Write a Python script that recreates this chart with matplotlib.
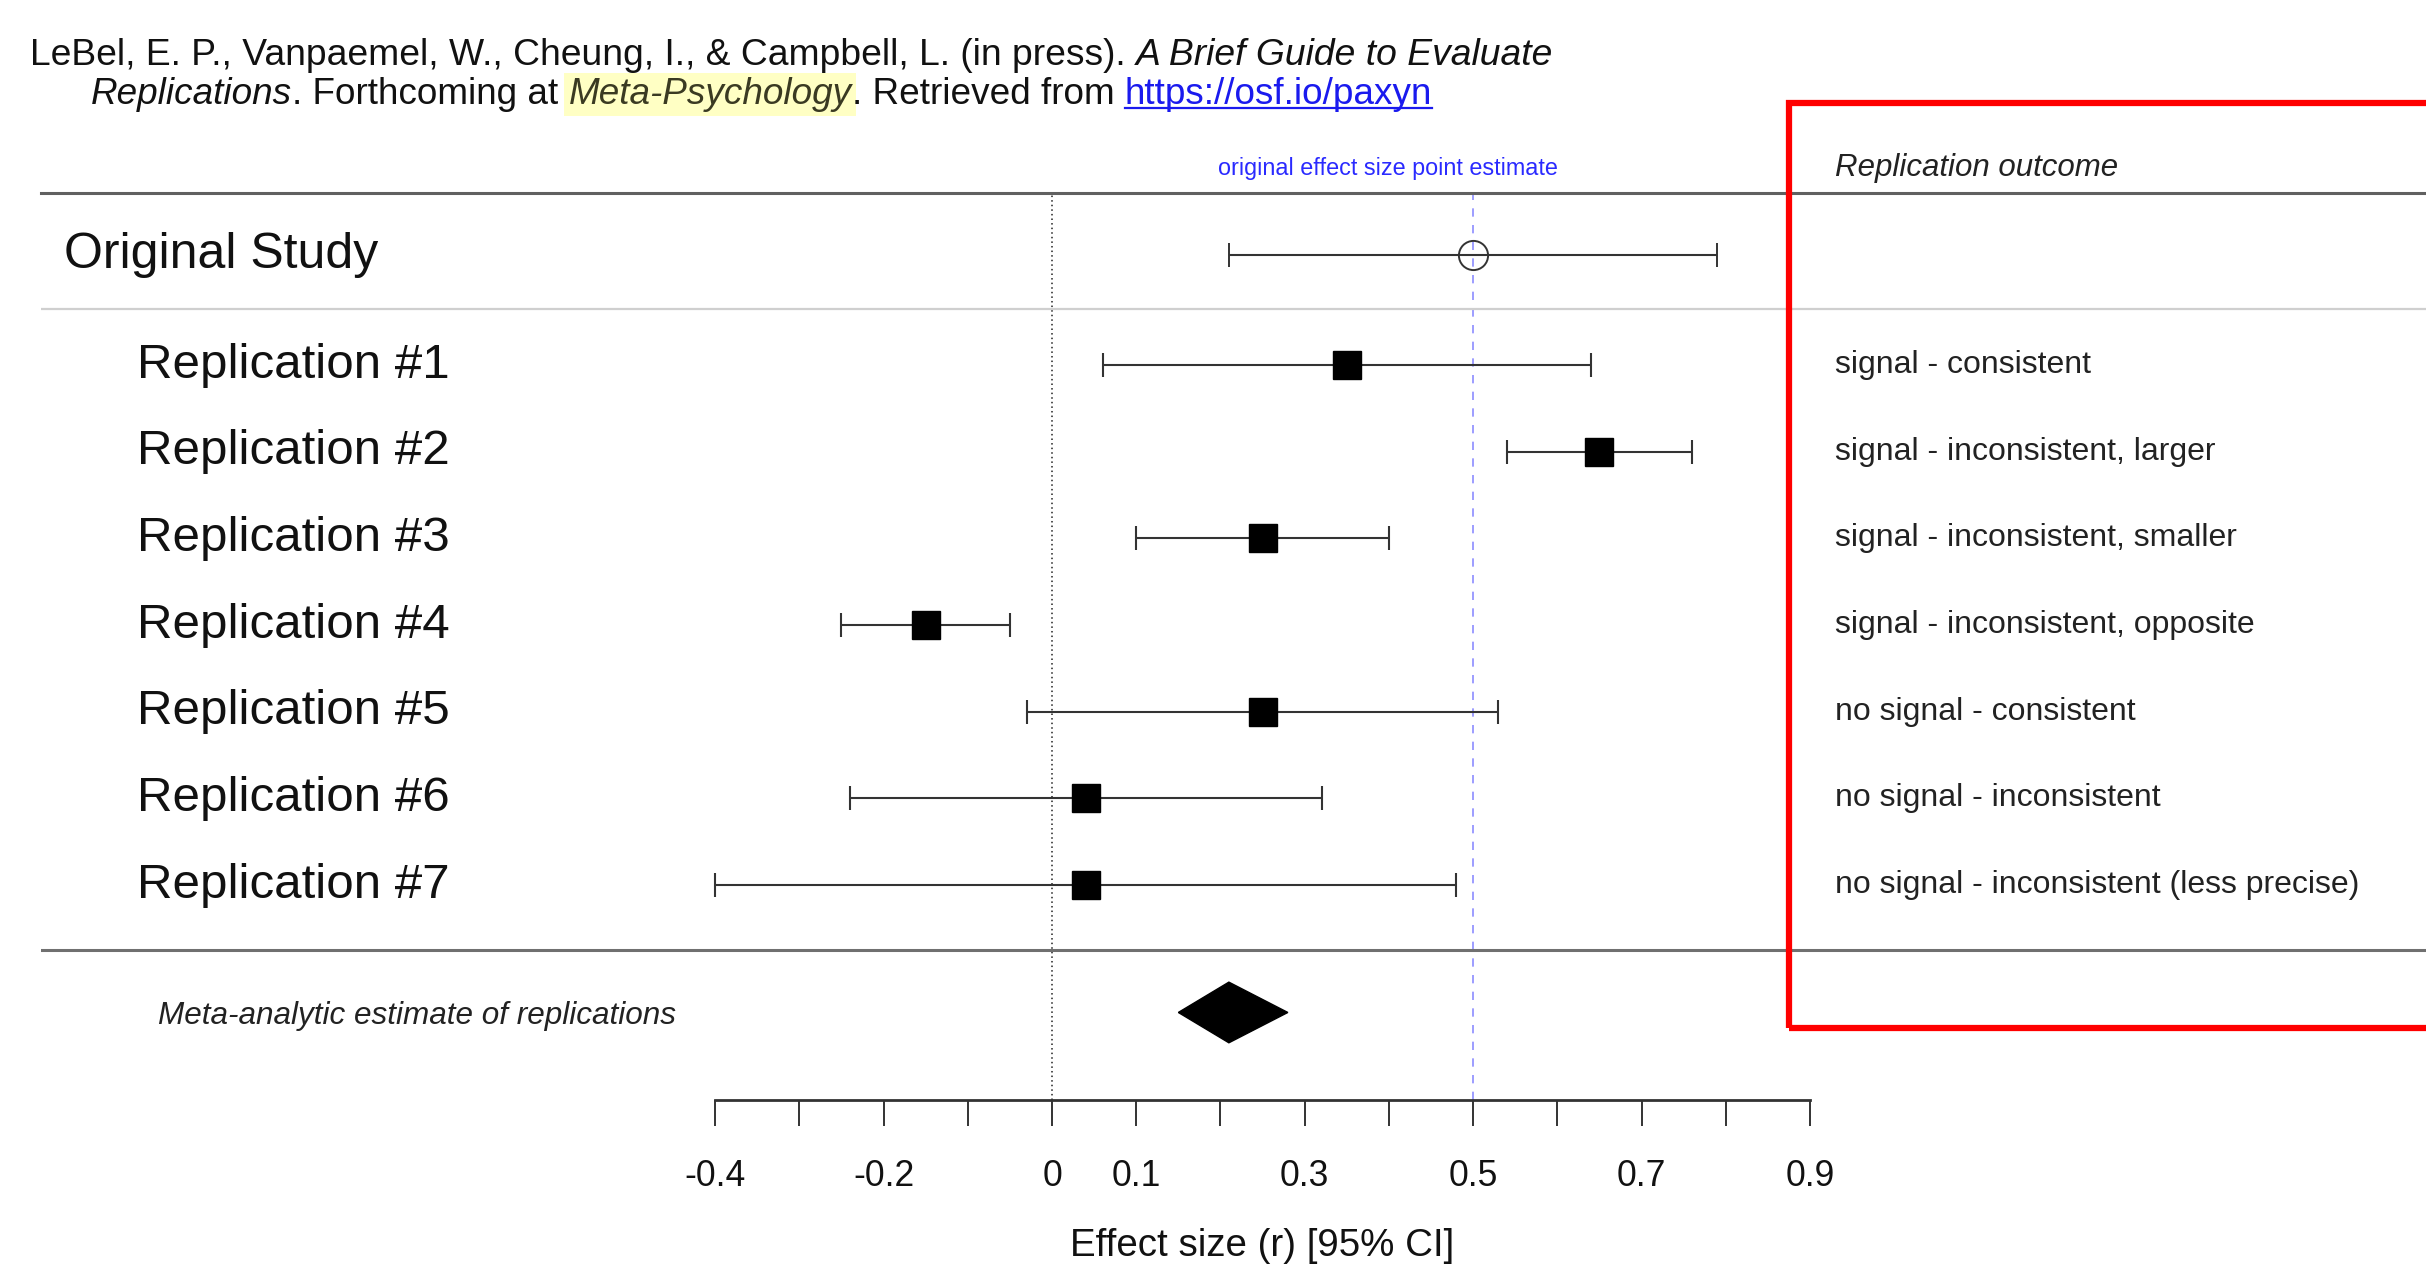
import matplotlib
matplotlib.use("Agg")
import matplotlib.pyplot as plt
from matplotlib.patches import Polygon, Rectangle
from matplotlib.lines import Line2D
import numpy as np

plt.rcParams["font.family"] = ["Liberation Sans", "DejaVu Sans"]

# data
study_labels = ["Original Study", "Replication #1", "Replication #2", "Replication #3",
                "Replication #4", "Replication #5", "Replication #6", "Replication #7"]
estimates = [0.50, 0.35, 0.65, 0.25, -0.15, 0.25, 0.04, 0.04]
ci_low = [0.21, 0.06, 0.54, 0.10, -0.25, -0.03, -0.24, -0.40]
ci_high = [0.79, 0.64, 0.76, 0.40, -0.05, 0.53, 0.32, 0.48]
outcomes = ["", "signal - consistent", "signal - inconsistent, larger",
            "signal - inconsistent, smaller", "signal - inconsistent, opposite",
            "no signal - consistent", "no signal - inconsistent",
            "no signal - inconsistent (less precise)"]
meta_est, meta_low, meta_high = 0.21, 0.15, 0.28

tick_values = [-0.4, -0.3, -0.2, -0.1, 0.0, 0.1, 0.2, 0.3, 0.4, 0.5, 0.6, 0.7, 0.8, 0.9]
tick_labels = ["-0.4", "", "-0.2", "", "0", "0.1", "", "0.3", "", "0.5", "", "0.7", "", "0.9"]

W, H, DPI = 2426, 1264, 100
fig = plt.figure(figsize=(W / DPI, H / DPI), dpi=DPI)
ax = fig.add_axes([41 / W, 1 - 1100 / H, 1 - 41 / W, (1100 - 193) / H])

x_left, x_right = (41 - 1052) / 842.3, (W - 1052) / 842.3
ax.set_xlim(x_left, x_right)
ax.set_ylim(9.75, -0.715)

row_y = np.array([0.0] + [1.27 + i for i in range(7)])
meta_y = 8.74
est = np.array(estimates)
lo = np.array(ci_low)
hi = np.array(ci_high)

# reference lines
ax.axvline(0, color="#222222", ls=(0, (1, 2)), lw=1.1, zorder=1)
ax.axvline(0.5, color="#8c8cff", ls=(0, (5, 5)), lw=1.2, zorder=1)
ax.axhline(0.623, color="#cfcfcf", lw=1.6, zorder=1)
ax.axhline(8.02, color="#707070", lw=2.2, zorder=1)

# original study
ax.errorbar(est[:1], row_y[:1], xerr=[est[:1] - lo[:1], hi[:1] - est[:1]], fmt="o", ms=21,
            mfc="none", mec="#333333", mew=1.4, ecolor="#333333", elinewidth=1.5,
            capsize=8.5, capthick=1.5, zorder=3)
# replications
ax.errorbar(est[1:], row_y[1:], xerr=[est[1:] - lo[1:], hi[1:] - est[1:]], fmt="s", ms=20,
            mfc="black", mec="black", ecolor="#333333", elinewidth=1.5,
            capsize=8.5, capthick=1.5, zorder=3)
# meta-analytic diamond
h = 0.35
ax.add_patch(Polygon([[meta_low, meta_y], [meta_est, meta_y - h], [meta_high, meta_y],
                      [meta_est, meta_y + h]], closed=True, fc="black", ec="black", zorder=3))

# study labels + outcomes
for i, (lab, out) in enumerate(zip(study_labels, outcomes)):
    if i == 0:
        ax.text(-1.173, row_y[i], lab, fontsize=36, va="center", color="#111111")
    else:
        ax.text(-1.086, row_y[i], lab, fontsize=35.5, va="center", color="#111111")
    if out:
        ax.text(0.9296, row_y[i], out, fontsize=23, va="center", color="#222222")

ax.text(-1.061, meta_y + 0.04, "Meta-analytic estimate of replications", fontsize=22.7,
        style="italic", va="center", color="#222222")
ax.text(0.9296, -1.0, "Replication outcome", fontsize=22.5, style="italic",
        va="center", color="#222222", clip_on=False)
ax.text(0.399, -1.0, "original effect size point estimate", fontsize=16.8,
        ha="center", va="center", color="#2a2aff", clip_on=False)

# axis
for side in ["left", "right"]:
    ax.spines[side].set_visible(False)
ax.spines["top"].set_color("#606060")
ax.spines["top"].set_linewidth(2.2)
ax.spines["bottom"].set_bounds(tick_values[0], tick_values[-1])
ax.spines["bottom"].set_color("#333333")
ax.spines["bottom"].set_linewidth(2.0)
ax.set_yticks([])
ax.set_xticks(tick_values)
ax.set_xticklabels(tick_labels)
ax.tick_params(axis="x", direction="out", length=18.7, width=1.4, color="#333333",
               pad=24, labelsize=25.6, labelcolor="#111111")
ax.set_xlabel("Effect size (r) [95% CI]", fontsize=27.7, color="#111111", labelpad=24)
mid = (tick_values[0] + tick_values[-1]) / 2
ax.xaxis.label.set_x((mid - x_left) / (x_right - x_left))

# red outline box
fig.add_artist(Rectangle((1789 / W, 1 - 1028 / H), (2600 - 1789) / W, (1028 - 103) / H,
                         transform=fig.transFigure, fill=False, ec="red", lw=4.5, zorder=5))

# citation header
renderer = fig.canvas.get_renderer()


def run_width(s, size, style):
    a = fig.text(0, 0, "|" + s + "|", fontsize=size, style=style)
    b = fig.text(0, 0, "||", fontsize=size, style=style)
    w = a.get_window_extent(renderer).width - b.get_window_extent(renderer).width
    a.remove()
    b.remove()
    return w


def put_runs(x, base, runs, size):
    for s, style, color, kind in runs:
        kw = {}
        if kind == "highlight":
            kw["bbox"] = dict(boxstyle="square,pad=0.12", fc="#ffffc4", ec="none")
        fig.text(x / W, 1 - base / H, s, fontsize=size, style=style, color=color,
                 va="baseline", ha="left", **kw)
        w = run_width(s, size, style)
        if kind == "link":
            fig.add_artist(Line2D([x / W, (x + w) / W], [1 - (base + 4) / H] * 2,
                                  transform=fig.transFigure, color=color, lw=1.6))
        x += w


put_runs(30, 65, [
    ("LeBel, E. P., Vanpaemel, W., Cheung, I., & Campbell, L. (in press). ", "normal", "#111111", ""),
    ("A Brief Guide to Evaluate", "italic", "#111111", ""),
], 26.8)
put_runs(91, 104, [
    ("Replications", "italic", "#111111", ""),
    (". Forthcoming at ", "normal", "#111111", ""),
    ("Meta-Psychology", "italic", "#3a3a22", "highlight"),
    (". Retrieved from ", "normal", "#111111", ""),
    ("https://osf.io/paxyn", "normal", "#1a1aee", "link"),
], 26.6)

fig.savefig("out.png", dpi=DPI)
